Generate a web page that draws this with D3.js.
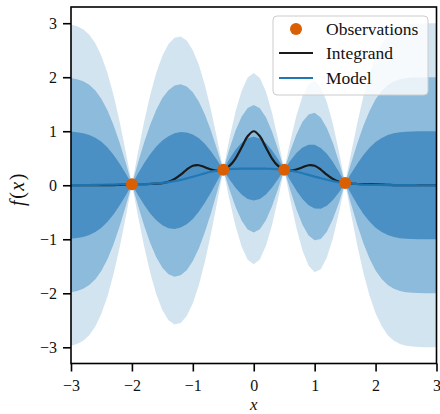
<!DOCTYPE html>
<html><head><meta charset="utf-8">
<script src="https://cdn.jsdelivr.net/npm/d3@7"></script>
<style>
html,body{margin:0;padding:0;background:#fff;}
svg{display:block;}
text{font-family:"Liberation Serif","DejaVu Serif",serif;fill:#111;}
</style></head>
<body><svg id="c" width="440" height="414"></svg>
<script>
// ---- data ----
const xGrid = [-3.0,-2.9,-2.8,-2.7,-2.6,-2.5,-2.4,-2.3,-2.2,-2.1,-2.0,-1.9,-1.8,-1.7,-1.6,-1.5,-1.4,-1.3,-1.2,-1.1,-1.0,-0.9,-0.8,-0.7,-0.6,-0.5,-0.4,-0.3,-0.2,-0.1,0.0,0.1,0.2,0.3,0.4,0.5,0.6,0.7,0.8,0.9,1.0,1.1,1.2,1.3,1.4,1.5,1.6,1.7,1.8,1.9,2.0,2.1,2.2,2.3,2.4,2.5,2.6,2.7,2.8,2.9,3.0];
const integrand = [0.0000,0.0000,0.0001,0.0001,0.0003,0.0008,0.0017,0.0036,0.0072,0.0121,0.0169,0.0200,0.0216,0.0236,0.0286,0.0405,0.0659,0.1150,0.1948,0.2909,0.3606,0.3706,0.3341,0.2908,0.2703,0.2879,0.3575,0.4948,0.6985,0.9073,1.0000,0.9073,0.6985,0.4948,0.3575,0.2879,0.2703,0.2908,0.3341,0.3706,0.3606,0.2909,0.1948,0.1150,0.0659,0.0405,0.0286,0.0236,0.0216,0.0200,0.0169,0.0121,0.0072,0.0036,0.0017,0.0008,0.0003,0.0001,0.0001,0.0000,0.0000];
const modelMean = [0.002,0.003,0.004,0.005,0.007,0.009,0.010,0.012,0.014,0.015,0.017,0.019,0.022,0.026,0.033,0.043,0.057,0.076,0.100,0.128,0.158,0.190,0.221,0.249,0.271,0.288,0.299,0.304,0.307,0.307,0.307,0.307,0.306,0.304,0.299,0.288,0.271,0.249,0.222,0.192,0.160,0.129,0.101,0.077,0.056,0.041,0.029,0.020,0.014,0.010,0.007,0.005,0.003,0.002,0.001,0.001,0.001,0.000,0.000,0.000,0.000];
const modelStd = [0.991,0.980,0.961,0.927,0.874,0.795,0.688,0.550,0.385,0.198,0.000,0.198,0.384,0.548,0.683,0.785,0.852,0.885,0.884,0.850,0.781,0.678,0.542,0.378,0.193,0.000,0.187,0.352,0.480,0.562,0.590,0.560,0.476,0.346,0.182,0.000,0.182,0.346,0.476,0.560,0.590,0.562,0.480,0.352,0.187,0.000,0.193,0.378,0.544,0.683,0.792,0.871,0.926,0.960,0.980,0.991,0.996,0.998,0.999,1.000,1.000];
const obsX = [-2.0,-0.5,0.5,1.5];
const obsY = [0.017,0.288,0.288,0.041];
const bandWidths = [3,2,1];
const xTicks = [-3,-2,-1,0,1,2,3];
const yTicks = [-3,-2,-1,0,1,2,3];
const legendLabels = ["Observations","Integrand","Model"];

// ---- drawing ----
const svg = d3.select("#c");
const L=71, R=436.5, T=7, B=363.5;
const x = d3.scaleLinear().domain([-3,3]).range([L,R]);
const y = d3.scaleLinear().domain([-3.3,3.3]).range([B,T]);
const bandColors = ["#d3e4f1","#8dbbdb","#4a90c4"];

svg.append("clipPath").attr("id","clip").append("rect")
  .attr("x",L).attr("y",T).attr("width",R-L).attr("height",B-T);
const g = svg.append("g").attr("clip-path","url(#clip)");

const pts = xGrid.map((v,i)=>({x:v,m:modelMean[i],s:modelStd[i],f:integrand[i]}));
bandWidths.forEach((k,j)=>{
  const area = d3.area().x(d=>x(d.x)).y0(d=>y(d.m-k*d.s)).y1(d=>y(d.m+k*d.s)).curve(d3.curveLinear);
  g.append("path").datum(pts).attr("d",area).attr("fill",bandColors[j]);
});
const lineF = d3.line().x(d=>x(d.x)).y(d=>y(d.f)).curve(d3.curveCatmullRom.alpha(0.5));
const lineM = d3.line().x(d=>x(d.x)).y(d=>y(d.m)).curve(d3.curveCatmullRom.alpha(0.5));
g.append("path").datum(pts).attr("d",lineF).attr("fill","none").attr("stroke","#1a1a1a").attr("stroke-width",2.2);
g.append("path").datum(pts).attr("d",lineM).attr("fill","none").attr("stroke","#1f77b4").attr("stroke-width",2.2).attr("opacity",0.95);
g.selectAll("circle.obs").data(obsX.map((v,i)=>({x:v,y:obsY[i]}))).enter().append("circle")
  .attr("cx",d=>x(d.x)).attr("cy",d=>y(d.y)).attr("r",6).attr("fill","#d95f02");

const fmt = d=> d<0 ? "\u2212"+Math.abs(d) : String(d);
const ax = svg.append("g").attr("transform",`translate(0,${B})`)
  .call(d3.axisBottom(x).tickValues(xTicks).tickFormat(fmt).tickSize(8).tickPadding(8));
const ay = svg.append("g").attr("transform",`translate(${L},0)`)
  .call(d3.axisLeft(y).tickValues(yTicks).tickFormat(fmt).tickSize(8).tickPadding(6));
[ax,ay].forEach(a=>{
  a.select(".domain").remove();
  a.selectAll(".tick line").attr("stroke","#000").attr("stroke-width",1.6);
  a.selectAll(".tick text").attr("font-size",16).attr("fill","#111").style("font-family","'Liberation Serif',serif");
});
svg.append("rect").attr("x",L).attr("y",T).attr("width",R-L).attr("height",B-T)
  .attr("fill","none").attr("stroke","#000").attr("stroke-width",1.6);

// axis labels
svg.append("text").attr("x",(L+R)/2).attr("y",410).attr("text-anchor","middle")
  .attr("font-size",17).attr("font-style","italic").text("x");
const yl = svg.append("text").attr("transform","translate(24,189) rotate(-90)")
  .attr("text-anchor","middle").attr("font-size",20).attr("letter-spacing",1.5);
yl.append("tspan").attr("font-style","italic").text("f");
yl.append("tspan").text("(");
yl.append("tspan").attr("font-style","italic").text("x");
yl.append("tspan").text(")");

// legend
const lg = svg.append("g");
lg.append("rect").attr("x",273).attr("y",16).attr("width",155).attr("height",79).attr("rx",4)
  .attr("fill","#fff").attr("fill-opacity",0.8).attr("stroke","#cccccc").attr("stroke-width",1);
lg.append("circle").attr("cx",296).attr("cy",29).attr("r",6).attr("fill","#d95f02");
lg.append("line").attr("x1",279).attr("x2",313).attr("y1",53).attr("y2",53).attr("stroke","#1a1a1a").attr("stroke-width",2.2);
lg.append("line").attr("x1",279).attr("x2",313).attr("y1",78).attr("y2",78).attr("stroke","#1f77b4").attr("stroke-width",2.2);
[29,53,78].forEach((yy,i)=>{
  lg.append("text").attr("x",326).attr("y",yy).attr("dy","0.35em").attr("font-size",17.5).text(legendLabels[i]);
});
</script></body></html>
